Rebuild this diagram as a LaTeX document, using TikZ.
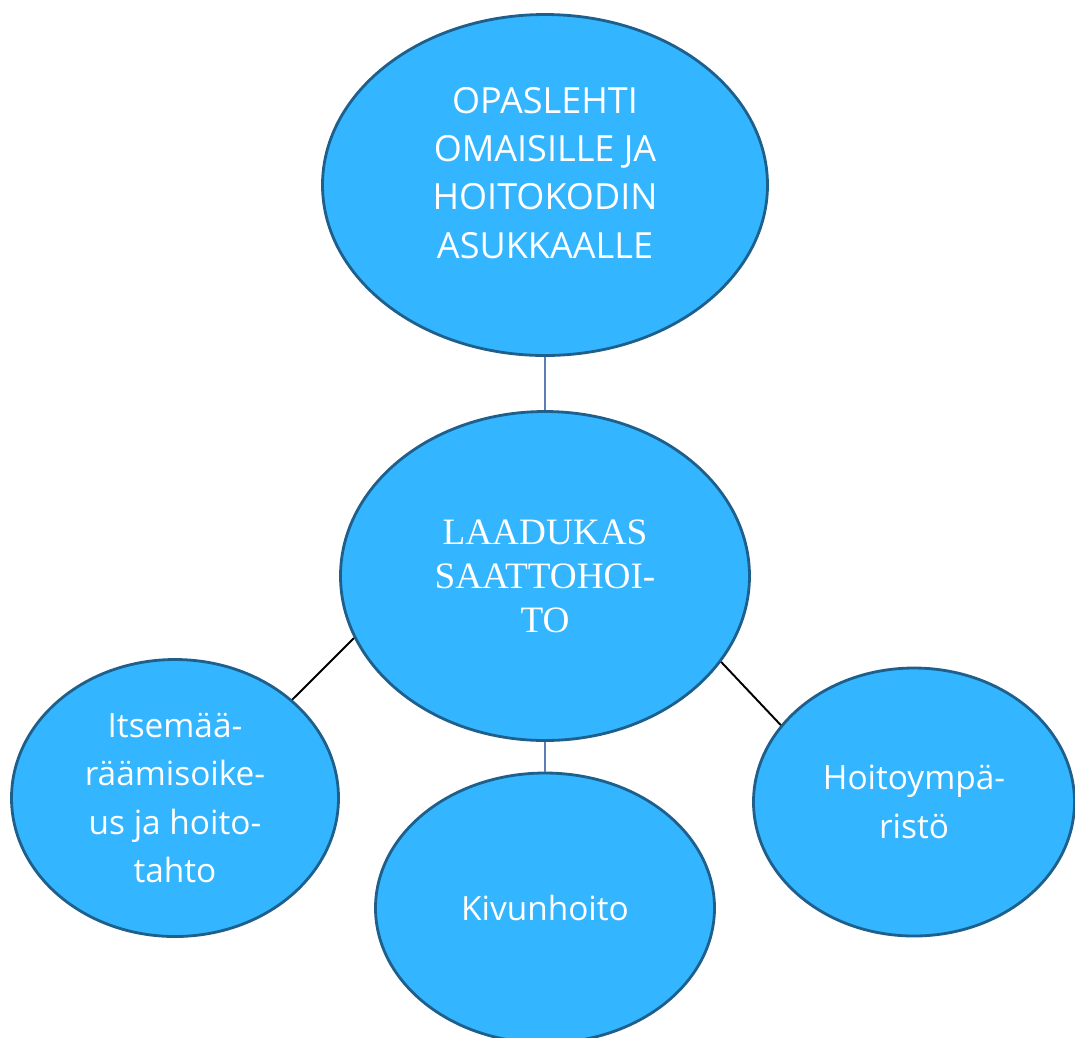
\documentclass[tikz,border=0pt]{standalone}
\usepackage{fontspec}
\setmainfont{Open Sans}
\newfontfamily\timesfont{Liberation Serif}
\usetikzlibrary{shapes.geometric}
\definecolor{bubblefill}{HTML}{33B5FF}
\definecolor{bubbleline}{HTML}{1F5F8B}
\definecolor{stemline}{HTML}{5B7FB5}

\begin{document}
\begin{tikzpicture}[
   bubble/.style={ellipse,draw=bubbleline,fill=bubblefill,line width=1.6pt,
      text=white,align=center,inner sep=0pt},
   small/.style={font=\fontsize{19}{27.5}\selectfont},
   stem/.style={draw=stemline,line width=1.1pt},
   spoke/.style={draw=black,line width=1.1pt}]
   \useasboundingbox (0,0) rectangle (21.5,-20.74);

   \node[bubble,minimum width=8.9cm,minimum height=6.82cm,text depth=0.5cm,
      font=\fontsize{20.5}{27.5}\selectfont] (guide) at (10.9,-3.7)
      {OPASLEHTI\\OMAISILLE JA\\HOITOKODIN\\ASUKKAALLE};
   \node[bubble,minimum width=8.18cm,minimum height=6.58cm,
      font=\timesfont\fontsize{21.2}{25}\selectfont] (care) at (10.9,-11.52)
      {LAADUKAS\\SAATTOHOI-\\TO};
   \node[bubble,small,minimum width=6.54cm,minimum height=5.54cm] (will) at (3.5,-15.96)
      {Itsemää-\\räämisoike-\\us ja hoito-\\tahto};
   \node[bubble,small,minimum width=6.78cm,minimum height=5.4cm] (pain) at (10.9,-18.16)
      {Kivunhoito};
   \node[bubble,small,minimum width=6.42cm,minimum height=5.36cm] (place) at (18.28,-16.04)
      {Hoitoympä-\\ristö};

   \path[stem] (guide) -- (care);
   \path[stem] (care) -- (pain);
   \path[spoke] (care.198) -- (will.40);
   \path[spoke] (care.334) -- (place.150);

\end{tikzpicture}
\end{document}
